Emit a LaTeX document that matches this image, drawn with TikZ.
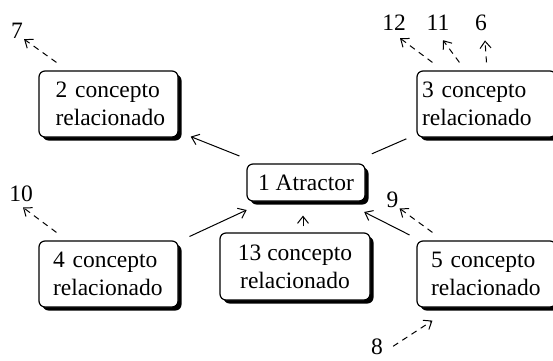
\documentclass[tikz,border=0pt]{standalone}
\usepackage{fontspec}
\setmainfont{Liberation Serif}
\usetikzlibrary{arrows.meta,shadows,calc}
\begin{document}
\hyphenpenalty=10000
\exhyphenpenalty=10000
\begin{tikzpicture}[x=1pt,y=1pt,
  font=\fontsize{23.5}{28}\selectfont,
  concept/.style={draw, line width=1.2pt, rounded corners=6pt, fill=white,
    drop shadow={shadow xshift=3.5pt, shadow yshift=-3.5pt, fill=black, opacity=1},
    minimum width=139pt, minimum height=66pt, inner sep=0pt, align=left},
  num/.style={inner sep=1pt, anchor=base},
  link/.style={line width=1pt, -{Straight Barb[length=7pt,width=11pt]}},
  plain/.style={line width=1pt},
  hint/.style={link, dash pattern=on 6pt off 5pt}]
\useasboundingbox (0,0) rectangle (553,360);

% concept boxes
\node[concept, minimum width=118pt, minimum height=37pt, align=center] (b1) at (306,177.5) {1 Atractor};
\node[concept, text width=106pt] (b2) at (108.5,256) {2 concepto\\relacionado};
\node[concept, text width=129pt] (b3) at (486.5,256) {3 concepto\\relacionado};
\node[concept, text width=111pt] (b4) at (108.5,86) {4 concepto\\relacionado};
\node[concept, text width=111pt] (b5) at (486.5,86) {5 concepto\\relacionado};
\node[concept, minimum width=150pt, minimum height=67pt, align=center] (b13) at (295,93.5) {13 concepto\\relacionado};

% numbered hints
\node[num] (n7)  at (17,322)   {7};
\node[num] (n12) at (394,330)  {12};
\node[num] (n11) at (438,330)  {11};
\node[num] (n6)  at (481,330)  {6};
\node[num] (n10) at (21,159)   {10};
\node[num] (n9)  at (392.5,153) {9};
\node[num] (n8)  at (377,6)    {8};

% links between concepts
\draw[link, shorten <=20pt, shorten >=13pt] (b1) -- (b2);
\draw[plain, shorten <=11pt, shorten >=24pt] (b3) -- (b1);
\draw[link, shorten <=12pt, shorten >=20pt] (b4) -- (b1);
\draw[link, shorten <=12pt, shorten >=23pt] (b5) -- (b1);
\draw[link, shorten <=6pt, shorten >=14pt] ([xshift=8pt]b13.north) -- ([xshift=8pt]b13.north |- b1.south);

% dashed hints
\draw[hint] ($(b2.north west)+(18,8)$) -- (n7.south east);
\draw[hint] ($(b3.north west)+(16,8)$) -- ($(n12.south)+(6,-7)$);
\draw[hint] ($(b3.north west)+(43,8)$) -- ($(n11.south)+(5,-9)$);
\draw[hint] ($(b3.north)+(0,8)$) -- ($(n6.south)+(4,-9)$);
\draw[hint] ($(b4.north west)+(18,8)$) -- ($(n10.south)+(2,-5)$);
\draw[hint] ($(b5.north west)+(16,8)$) -- (n9.south east);
\draw[hint] ($(n8.east)+(9,0)$) -- ($(b5.south west)+(16,-13)$);
\end{tikzpicture}
\end{document}
